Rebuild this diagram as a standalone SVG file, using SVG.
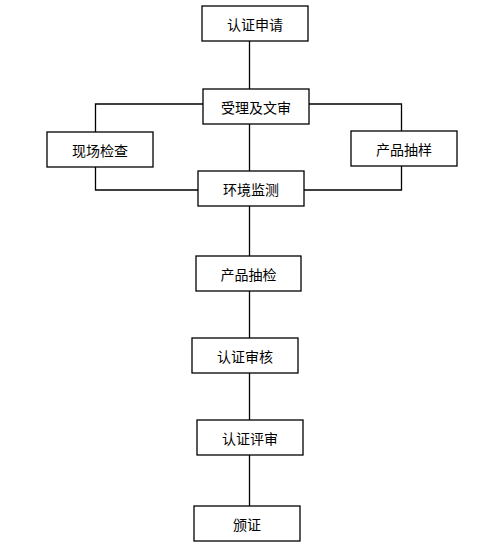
<svg xmlns="http://www.w3.org/2000/svg" width="494" height="549" viewBox="0 0 494 549">
<style>
.box{fill:#fff;stroke:#000;stroke-width:1.3}
.lbl{font-family:"Noto Sans CJK SC","Noto Sans CJK TC",sans-serif;font-size:14px;fill:#000;text-anchor:middle;dominant-baseline:central}
.ln{fill:none;stroke:#000;stroke-width:1.3}
</style>
<rect width="494" height="549" fill="#fff"/>
<g id="connectors">
<line class="ln" x1="249.5" y1="41" x2="249.5" y2="89"/>
<line class="ln" x1="249.5" y1="124" x2="249.5" y2="171"/>
<line class="ln" x1="249.5" y1="206" x2="249.5" y2="256"/>
<line class="ln" x1="249.5" y1="291" x2="249.5" y2="338"/>
<line class="ln" x1="249.5" y1="373" x2="249.5" y2="420"/>
<line class="ln" x1="249.5" y1="455" x2="249.5" y2="506"/>
<polyline class="ln" points="203,104 95.5,104 95.5,132"/>
<polyline class="ln" points="95.5,167 95.5,190 198,190"/>
<polyline class="ln" points="309,104 401.5,104 401.5,131"/>
<polyline class="ln" points="401.5,166 401.5,190 304,190"/>
</g>
<g id="n1"><rect class="box" x="202" y="6" width="106" height="35"/><text class="lbl" x="255" y="23.5">认证申请</text></g>
<g id="n2"><rect class="box" x="203" y="89" width="106" height="35"/><text class="lbl" x="256" y="106.5">受理及文审</text></g>
<g id="n3"><rect class="box" x="47" y="132" width="106" height="35"/><text class="lbl" x="100" y="149.5">现场检查</text></g>
<g id="n4"><rect class="box" x="351" y="131" width="106" height="35"/><text class="lbl" x="404" y="148.5">产品抽样</text></g>
<g id="n5"><rect class="box" x="198" y="171" width="106" height="35"/><text class="lbl" x="251" y="188.5">环境监测</text></g>
<g id="n6"><rect class="box" x="196" y="256" width="105" height="35"/><text class="lbl" x="248.5" y="273.5">产品抽检</text></g>
<g id="n7"><rect class="box" x="192" y="338" width="106" height="35"/><text class="lbl" x="245" y="355.5">认证审核</text></g>
<g id="n8"><rect class="box" x="197" y="420" width="106" height="35"/><text class="lbl" x="250" y="437.5">认证评审</text></g>
<g id="n9"><rect class="box" x="194" y="506" width="106" height="35"/><text class="lbl" x="247" y="523.5">颁证</text></g>
</svg>
